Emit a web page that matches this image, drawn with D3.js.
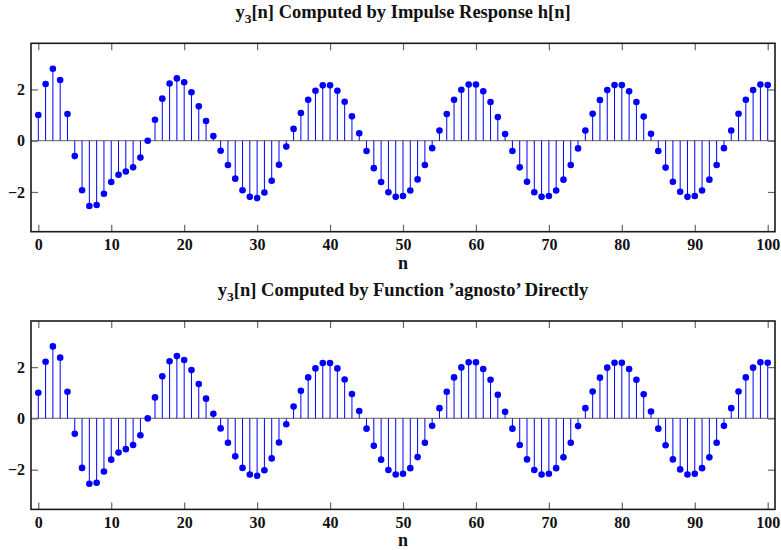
<!DOCTYPE html>
<html><head><meta charset="utf-8">
<script src="https://cdn.jsdelivr.net/npm/d3@7"></script>
<style>body{margin:0;background:#fff}svg{display:block}text{font-family:"Liberation Serif","Times New Roman",serif;font-weight:bold}</style>
</head><body><svg id="c" width="781" height="550"></svg>
<script>
const n = d3.range(0, 101);
const y3Impulse = [1.00,2.21,2.81,2.37,1.04,-0.60,-1.93,-2.55,-2.51,-2.07,
 -1.61,-1.33,-1.20,-1.04,-0.66,0.00,0.82,1.64,2.23,2.43,
 2.28,1.89,1.34,0.77,0.18,-0.39,-0.95,-1.48,-1.93,-2.19,
 -2.24,-2.02,-1.56,-0.94,-0.23,0.46,1.08,1.60,1.95,2.16,
 2.16,1.95,1.52,0.95,0.29,-0.40,-1.07,-1.61,-2.01,-2.19,
 -2.16,-1.94,-1.51,-0.95,-0.29,0.40,1.04,1.60,1.99,2.19,
 2.19,1.93,1.51,0.92,0.26,-0.40,-1.04,-1.60,-2.01,-2.19,
 -2.16,-1.94,-1.52,-0.95,-0.30,0.40,1.05,1.59,1.98,2.17,
 2.17,1.93,1.51,0.94,0.27,-0.40,-1.05,-1.60,-1.99,-2.19,
 -2.16,-1.94,-1.52,-0.95,-0.29,0.40,1.05,1.60,1.98,2.19,2.17];
const y3Direct = y3Impulse.slice();
const xTicks = [0,10,20,30,40,50,60,70,80,90,100];
const yTicks = [-2,0,2];
const titles = ["Computed by Impulse Response h[n]", "Computed by Function \u2019agnosto\u2019 Directly"];
const xLabel = "n";

const svg = d3.select("#c");
const panels = [{top:43.3, data:y3Impulse, title:titles[0]}, {top:321, data:y3Direct, title:titles[1]}];
const L = 31, R = 775, H = 188.4;

panels.forEach(p => {
  const x = d3.scaleLinear().domain([-1, 101]).range([L, R]);
  const y = d3.scaleLinear().domain([-3.55, 3.8]).range([p.top + H, p.top]);
  const g = svg.append("g");
  g.append("line").attr("x1", L).attr("x2", R).attr("y1", y(0)).attr("y2", y(0))
    .attr("stroke", "#808080").attr("stroke-width", 1.2);
  g.selectAll(".stem").data(n).enter().append("line")
    .attr("x1", d => x(d)).attr("x2", d => x(d))
    .attr("y1", y(0)).attr("y2", d => y(p.data[d]))
    .attr("stroke", "#0000ff").attr("stroke-width", 1);
  g.selectAll(".dot").data(n).enter().append("circle")
    .attr("cx", d => x(d)).attr("cy", d => y(p.data[d])).attr("r", 3.3)
    .attr("fill", "#0000ff");
  const ax = d3.axisBottom(x).tickValues(xTicks).tickSize(-7).tickPadding(7);
  const axT = d3.axisTop(x).tickValues(xTicks).tickSize(-7).tickFormat("");
  const ayL = d3.axisLeft(y).tickValues(yTicks).tickSize(-7).tickPadding(6).tickFormat(d => d < 0 ? "\u2212" + Math.abs(d) : d);
  const ayR = d3.axisRight(y).tickValues(yTicks).tickSize(-7).tickFormat("");
  [[ax, `translate(0,${p.top+H})`], [axT, `translate(0,${p.top})`], [ayL, `translate(${L},0)`], [ayR, `translate(${R},0)`]].forEach(([a, t]) => {
    const ag = g.append("g").attr("transform", t).call(a);
    ag.select(".domain").remove();
    ag.selectAll(".tick line").attr("stroke", "#666").attr("stroke-width", 1.2);
    ag.selectAll("text").attr("font-size", 16).attr("fill", "#111")
      .attr("font-family", "Liberation Serif, serif").attr("font-weight", "bold");
  });
  g.append("rect").attr("x", L).attr("y", p.top).attr("width", R - L).attr("height", H)
    .attr("fill", "none").attr("stroke", "#1a1a1a").attr("stroke-width", 1.6);
  const t = g.append("text").attr("x", (L + R) / 2).attr("y", p.top - 25).attr("text-anchor", "middle")
    .attr("font-size", 18.5).attr("fill", "#111");
  t.append("tspan").text("y");
  t.append("tspan").attr("dy", 5).attr("font-size", 13.5).text("3");
  t.append("tspan").attr("dy", -5).text("[n] " + p.title);
  g.append("text").attr("x", (L + R) / 2).attr("y", p.top + H + 37).attr("text-anchor", "middle")
    .attr("font-size", 18).attr("fill", "#111").text(xLabel);
});
</script></body></html>
